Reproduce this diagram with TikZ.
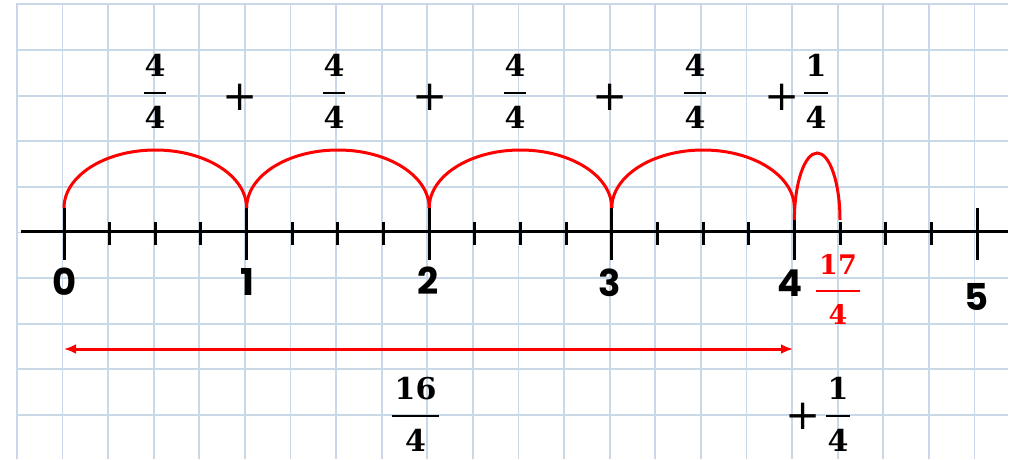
\documentclass[tikz,border=0pt]{standalone}
\usepackage{fontspec}
\usetikzlibrary{arrows.meta}
\newfontfamily\fracfont{DejaVu Serif}
\newfontfamily\numfont{Poppins}
\definecolor{gridblue}{HTML}{C9D8E8}
\definecolor{arcred}{HTML}{FF0000}
\newcommand\fr[3]{\vbox{\halign{\hfil\kern#1##\kern#1\hfil\cr#2\cr\noalign{\kern15pt\hrule height 2.5pt\kern12pt}#3\cr}}}
\begin{document}
\begin{tikzpicture}[x=1pt,y=1pt,
  gridline/.style={gridblue,line width=1.8pt},
  axisline/.style={black,line width=3pt},
  tickmark/.style={black,line width=3pt},
  hop/.style={arcred,line width=3pt},
  fracnode/.style={inner sep=0pt,font=\fracfont\bfseries\fontsize{30}{36}\selectfont},
  redfrac/.style={inner sep=0pt,text=arcred,font=\fracfont\bfseries\fontsize{27}{32}\selectfont},
  plusnode/.style={inner sep=0pt,font=\fracfont\fontsize{42}{48}\selectfont},
  numlbl/.style={inner sep=0pt,font=\numfont\bfseries\fontsize{37}{42}\selectfont}]
\useasboundingbox (0,0) rectangle (1017,459);
\fill[white] (0,0) rectangle (1017,459);
% grid paper
\begin{scope}
\clip (16,0) rectangle (1008,455.5);
\foreach \i in {0,...,21} \draw[gridline] (16.9+45.6*\i,0) -- (16.9+45.6*\i,459);
\foreach \j in {0,...,9} \draw[gridline] (0,454.6-45.6*\j) -- (1017,454.6-45.6*\j);
\end{scope}
% axis
\coordinate (axL) at (21,228);
\coordinate (axR) at (1008,228);
\draw[axisline] (axL) -- (axR);
\foreach \k in {0,...,5} \draw[tickmark] (64+182.6*\k,199) -- (64+182.6*\k,251);
\foreach \j in {1,2,3,5,6,7,9,10,11,13,14,15,17,18,19} \draw[tickmark] (64+45.65*\j,214) -- (64+45.65*\j,237);
% hops
\foreach \k in {0,...,4} \coordinate (p\k) at (64+182.6*\k,251);
\coordinate (q4) at (794.4,239);
\foreach \k in {0,...,3} \draw[hop] (p\k) arc[start angle=180,end angle=0,x radius=91.3pt,y radius=58pt];
\draw[hop] (q4) arc[start angle=180,end angle=0,x radius=22.8pt,y radius=67pt];
% arrow
\coordinate (arL) at (64,110);
\coordinate (arR) at (793,110);
\draw[hop,{Latex[length=12pt,width=10pt]}-{Latex[length=12pt,width=10pt]}] (arL) -- (arR);
% number labels
\node[numlbl] (l0) at (65,177) {0};
\node[numlbl] (l1) at (247,177) {1};
\node[numlbl] (l2) at (428,178) {2};
\node[numlbl] (l3) at (610,176) {3};
\node[numlbl] (l4) at (790,176) {4};
\node[numlbl] (l5) at (977,162) {5};
% top sum
\node[fracnode] (f1) at (155,367.5) {\fr{1pt}{4}{4}};
\node[plusnode] (s1) at (240,362) {+};
\node[fracnode] (f2) at (334,367.5) {\fr{1pt}{4}{4}};
\node[plusnode] (s2) at (430,362) {+};
\node[fracnode] (f3) at (515,367.5) {\fr{1pt}{4}{4}};
\node[plusnode] (s3) at (610,362) {+};
\node[fracnode] (f4) at (695,367.5) {\fr{1pt}{4}{4}};
\node[plusnode] (s4) at (782,362) {+};
\node[fracnode] (f5) at (816,367.5) {\fr{1.5pt}{1}{4}};
% red result
\node[redfrac] (f17) at (838,169.5) {\fr{3pt}{17}{4}};
% bottom sum
\node[fracnode] (f16) at (415.5,44.5) {\fr{2.5pt}{16}{4}};
\node[plusnode] (s5) at (803,43) {+};
\node[fracnode] (f6) at (838,44.5) {\fr{1.5pt}{1}{4}};
\end{tikzpicture}
\end{document}
